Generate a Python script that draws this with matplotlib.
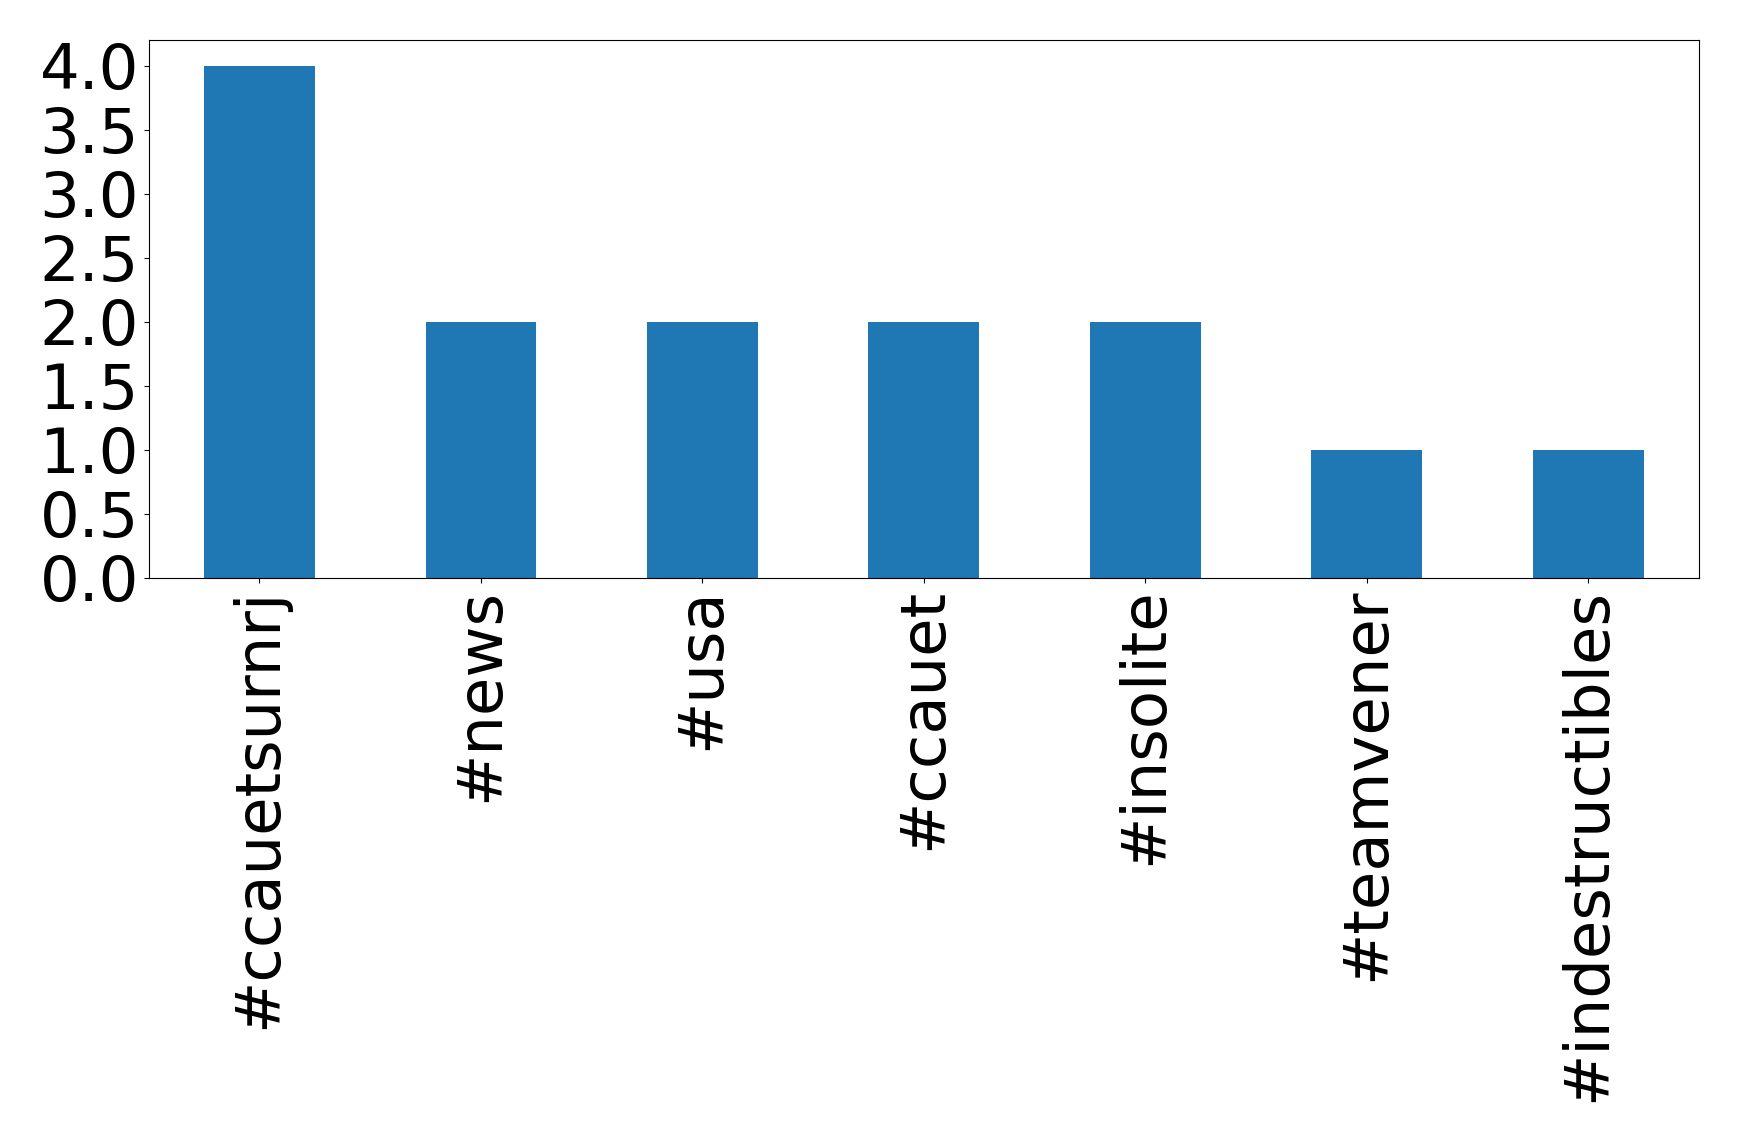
import matplotlib
matplotlib.use("Agg")
import matplotlib.pyplot as plt
import numpy as np

# hashtags et nombre d'occurrences
hashtags = ["#ccauetsurnrj", "#news", "#usa", "#ccauet", "#insolite",
            "#teamvener", "#indestructibles"]
counts = [4, 2, 2, 2, 2, 1, 1]

fig = plt.figure(figsize=(17.39, 11.42), dpi=100)
ax = fig.add_axes([0.0855, 0.494, 0.8915, 0.471])

x = np.arange(len(hashtags))
ax.bar(x, counts, width=0.5, color="#1f77b4")
ax.set_xlim(-0.5, len(hashtags) - 0.5)
ax.set_ylim(0, 4.2)
ax.set_xticks(x)
ax.set_xticklabels(hashtags, rotation=90)
ax.set_yticks(np.arange(0, 4.01, 0.5))
ax.tick_params(axis="both", labelsize=45)

fig.savefig("out.png", dpi=100)
